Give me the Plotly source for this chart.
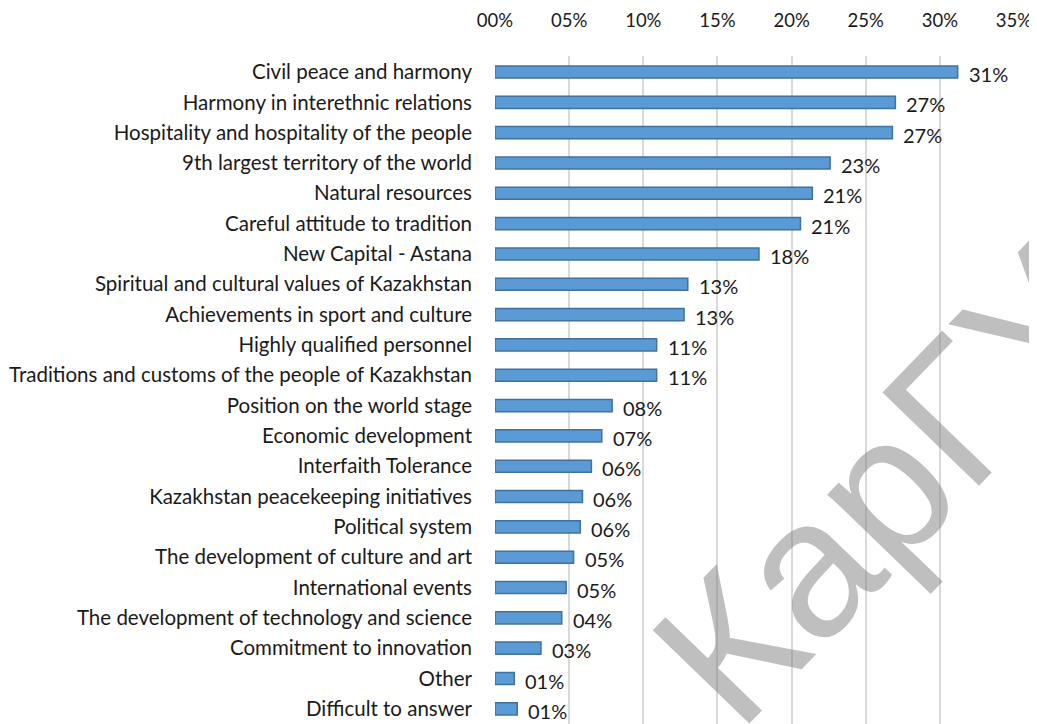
import plotly.graph_objects as go

categories = [
    "Civil peace and harmony",
    "Harmony in interethnic relations",
    "Hospitality and hospitality of the people",
    "9th largest territory of the world",
    "Natural resources",
    "Careful attitude to tradition",
    "New Capital - Astana",
    "Spiritual and cultural values of Kazakhstan",
    "Achievements in sport and culture",
    "Highly qualified personnel",
    "Traditions and customs of the people of Kazakhstan",
    "Position on the world stage",
    "Economic development",
    "Interfaith Tolerance",
    "Kazakhstan peacekeeping initiatives",
    "Political system",
    "The development of culture and art",
    "International events",
    "The development of technology and science",
    "Commitment to innovation",
    "Other",
    "Difficult to answer",
]
values = [31.2, 27.0, 26.8, 22.6, 21.4, 20.6, 17.8, 13.0, 12.75, 10.9, 10.9,
          7.9, 7.2, 6.5, 5.9, 5.75, 5.3, 4.8, 4.5, 3.1, 1.3, 1.5]
value_labels = ["31%", "27%", "27%", "23%", "21%", "21%", "18%", "13%", "13%",
                "11%", "11%", "08%", "07%", "06%", "06%", "06%", "05%", "05%",
                "04%", "03%", "01%", "01%"]
tick_vals = [0, 5, 10, 15, 20, 25, 30, 35]
tick_text = ["00%", "05%", "10%", "15%", "20%", "25%", "30%", "35%"]

FONT = "Lato"
TEXT_COLOR = "#1a1a1a"

fig = go.Figure()
fig.add_trace(go.Bar(
    x=values,
    y=categories,
    orientation="h",
    marker=dict(color="#5b9bd5", line=dict(color="#41719c", width=1.5)),
    width=0.4,
    hoverinfo="x+y",
))

# value labels to the right of each bar
for cat, v, lab in zip(categories, values, value_labels):
    fig.add_annotation(
        x=v, y=cat, text=lab, showarrow=False,
        xanchor="left", xshift=9, yshift=-2,
        font=dict(family=FONT, size=20, color=TEXT_COLOR),
    )

# watermark
fig.add_annotation(
    x=0.75, y=0.356, xref="paper", yref="paper",
    xanchor="center", yanchor="middle",
    text="КарГУ", showarrow=False, textangle=-46,
    font=dict(family="Liberation Sans", size=195, color="rgba(128,128,128,0.5)"),
)

# page body has an 8px margin, so the figure is 8px smaller than the window
fig.update_layout(
    width=1029,
    height=716,
    margin=dict(l=487, r=23, t=48, b=0, autoexpand=False),
    paper_bgcolor="white",
    plot_bgcolor="white",
    showlegend=False,
    font=dict(family=FONT, size=20, color=TEXT_COLOR),
    xaxis=dict(
        side="top",
        range=[0, 35],
        tickvals=tick_vals,
        ticktext=tick_text,
        showgrid=True,
        gridcolor="#d9d9d9",
        gridwidth=1.5,
        zeroline=False,
        showline=False,
        ticks="",
        automargin=False,
        ticklabelstandoff=24,
        ticklabeloverflow="allow",
        tickfont=dict(family=FONT, size=18.5, color=TEXT_COLOR),
    ),
    yaxis=dict(
        autorange="reversed",
        showgrid=False,
        zeroline=False,
        showline=False,
        ticks="",
        automargin=False,
        ticklabelstandoff=22,
        tickfont=dict(family=FONT, size=20.5, color=TEXT_COLOR),
    ),
)

fig.write_html("out.html")
